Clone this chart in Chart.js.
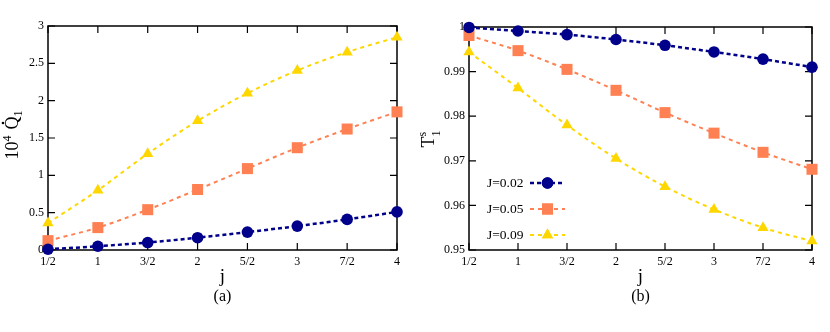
<!DOCTYPE html>
<html>
<head>
<meta charset="utf-8">
<script src="https://cdn.jsdelivr.net/npm/chart.js@4.4.0/dist/chart.umd.min.js"></script>
<style>
  html, body { margin: 0; padding: 0; background: #fff; }
  .panel { position: absolute; top: 0; height: 332px; }
  #panelA { left: 0; width: 410px; }
  #panelB { left: 410px; width: 420px; }
</style>
</head>
<body>
<div class="panel" id="panelA"><canvas id="heatChart"></canvas></div>
<div class="panel" id="panelB"><canvas id="tempChart"></canvas></div>
<script>
// ============================================
// Data
// ============================================
const jLabels = ['1/2', '1', '3/2', '2', '5/2', '3', '7/2', '4'];
const seriesNames = ['J=0.02', 'J=0.05', 'J=0.09'];

// panel (a): 10^4 Qdot_1
const heatJ002 = [0.01, 0.05, 0.10, 0.165, 0.24, 0.32, 0.41, 0.51];
const heatJ005 = [0.125, 0.30, 0.54, 0.81, 1.09, 1.37, 1.62, 1.85];
const heatJ009 = [0.36, 0.80, 1.29, 1.73, 2.10, 2.405, 2.65, 2.85];

// panel (b): T_1^s
const tempJ002 = [0.9999, 0.9991, 0.9983, 0.9972, 0.9959, 0.9944, 0.9928, 0.9910];
const tempJ005 = [0.9981, 0.9947, 0.9905, 0.9858, 0.9808, 0.9762, 0.9719, 0.9681];
const tempJ009 = [0.9944, 0.9863, 0.9780, 0.9705, 0.9642, 0.9591, 0.9550, 0.9520];

const SERIF = "'Liberation Serif', 'Times New Roman', 'DejaVu Serif', serif";

// series styles
const styles = [
    { color: '#00008b', pointStyle: 'circle', radius: 5.8, dash: [4, 3], width: 2.5 },
    { color: '#ff8052', pointStyle: 'rect', radius: 7.8, dash: [4, 4], width: 2 },
    { color: '#ffd700', pointStyle: 'triangle', radius: 6.5, dash: [4, 4], width: 2 }
];

function makeDataset(name, values, s) {
    return {
        label: name,
        data: values,
        borderColor: s.color,
        backgroundColor: s.color,
        borderWidth: s.width,
        borderDash: s.dash,
        cubicInterpolationMode: 'monotone',
        pointStyle: s.pointStyle,
        pointRadius: s.radius,
        pointBorderWidth: 0,
        pointBackgroundColor: s.color,
        clip: false,
        fill: false
    };
}

// ============================================
// Plugins: frame with inward ticks, titles, legend
// ============================================
const frameTicks = {
    id: 'frameTicks',
    beforeDatasetsDraw(chart) {
        const { ctx, chartArea: a, scales: { x, y } } = chart;
        const tl = 7;
        ctx.save();
        ctx.strokeStyle = '#000';
        ctx.lineWidth = 1.5;
        ctx.strokeRect(a.left, a.top, a.right - a.left, a.bottom - a.top);
        ctx.lineWidth = 1.2;
        ctx.beginPath();
        x.ticks.forEach((t, i) => {
            const px = x.getPixelForTick(i);
            ctx.moveTo(px, a.bottom); ctx.lineTo(px, a.bottom - tl);
            ctx.moveTo(px, a.top); ctx.lineTo(px, a.top + tl);
        });
        y.ticks.forEach(t => {
            const py = y.getPixelForValue(t.value);
            ctx.moveTo(a.left, py); ctx.lineTo(a.left + tl, py);
            ctx.moveTo(a.right, py); ctx.lineTo(a.right - tl, py);
        });
        ctx.stroke();
        ctx.restore();
    }
};

const axisTitles = {
    id: 'axisTitles',
    afterDraw(chart, args, opts) {
        const { ctx, chartArea: a } = chart;
        const cx = (a.left + a.right) / 2;
        ctx.save();
        ctx.fillStyle = '#000';
        ctx.textAlign = 'center';
        ctx.textBaseline = 'middle';
        ctx.font = '19px ' + SERIF;
        ctx.fillText('j', cx, 277);
        ctx.font = '16px ' + SERIF;
        ctx.fillText(opts.panel, cx, 297);

        // rotated y title, baseline at v = 0
        ctx.translate(opts.yTitleX, opts.yTitleY);
        ctx.rotate(-Math.PI / 2);
        ctx.textAlign = 'left';
        ctx.textBaseline = 'alphabetic';
        if (opts.kind === 'heat') {
            ctx.font = '18px ' + SERIF;
            const w10 = ctx.measureText('10').width;
            const wQ = ctx.measureText('Q').width;
            ctx.font = '12px ' + SERIF;
            const w4 = ctx.measureText('4').width;
            const w1 = ctx.measureText('1').width;
            const gap = 6;
            let x0 = -(w10 + w4 + gap + wQ + w1) / 2;
            ctx.font = '18px ' + SERIF;
            ctx.fillText('10', x0, 0);
            x0 += w10;
            ctx.font = '12px ' + SERIF;
            ctx.fillText('4', x0, -7);
            x0 += w4 + gap;
            ctx.font = '18px ' + SERIF;
            ctx.fillText('Q', x0, 0);
            ctx.beginPath();
            ctx.arc(x0 + wQ / 2, -15, 1.3, 0, Math.PI * 2);
            ctx.fill();
            ctx.font = '12px ' + SERIF;
            ctx.fillText('1', x0 + wQ, 4);
        } else {
            ctx.font = '18px ' + SERIF;
            const tw = ctx.measureText('T').width;
            const x0 = -(tw + 6) / 2;
            ctx.fillText('T', x0, 0);
            ctx.font = '12px ' + SERIF;
            ctx.fillText('s', x0 + tw, -8);
            ctx.fillText('1', x0 + tw, 6);
        }
        ctx.restore();
    }
};

const insideLegend = {
    id: 'insideLegend',
    afterDatasetsDraw(chart, args, opts) {
        if (!opts.show) return;
        const { ctx } = chart;
        ctx.save();
        chart.data.datasets.forEach((ds, i) => {
            const yPos = opts.rows[i];
            ctx.fillStyle = '#000';
            ctx.font = '13.5px ' + SERIF;
            ctx.textAlign = 'left';
            ctx.textBaseline = 'middle';
            ctx.fillText(ds.label, opts.textX, yPos);
            ctx.strokeStyle = ds.borderColor;
            ctx.lineWidth = ds.borderWidth;
            ctx.setLineDash(ds.borderDash);
            ctx.beginPath();
            ctx.moveTo(opts.lineX0, yPos);
            ctx.lineTo(opts.lineX1, yPos);
            ctx.stroke();
            ctx.setLineDash([]);
            ctx.fillStyle = ds.backgroundColor;
            Chart.helpers.drawPoint(ctx, {
                pointStyle: ds.pointStyle,
                radius: ds.pointRadius,
                borderWidth: 0
            }, (opts.lineX0 + opts.lineX1) / 2, yPos);
            ctx.fill();
        });
        ctx.restore();
    }
};

// ============================================
// Chart factory
// ============================================
function createPanel(canvasId, datasets, yCfg, layout, titleOpts, legendOpts) {
    const ctx = document.getElementById(canvasId);
    return new Chart(ctx, {
        type: 'line',
        data: { labels: jLabels, datasets: datasets },
        options: {
            responsive: true,
            maintainAspectRatio: false,
            animation: false,
            layout: { padding: { top: layout.top, right: layout.right, bottom: 0, left: 0 } },
            plugins: {
                legend: { display: false },
                tooltip: { enabled: false },
                axisTitles: titleOpts,
                insideLegend: legendOpts
            },
            scales: {
                x: {
                    type: 'category',
                    offset: false,
                    grid: { display: false, drawTicks: false },
                    border: { display: false },
                    ticks: {
                        color: '#000',
                        padding: 5,
                        maxRotation: 0,
                        autoSkip: false,
                        font: { family: SERIF, size: 12 }
                    },
                    afterFit: scale => { scale.height = 82; }
                },
                y: {
                    min: yCfg.min,
                    max: yCfg.max,
                    grid: { display: false, drawTicks: false },
                    border: { display: false },
                    ticks: {
                        color: '#000',
                        stepSize: yCfg.step,
                        padding: 4,
                        font: { family: SERIF, size: 12 },
                        callback: value => String(+value.toFixed(3))
                    },
                    afterFit: scale => { scale.width = layout.left; }
                }
            }
        },
        plugins: [frameTicks, axisTitles, insideLegend]
    });
}

createPanel('heatChart',
    [heatJ002, heatJ005, heatJ009].map((v, i) => makeDataset(seriesNames[i], v, styles[i])),
    { min: 0, max: 3, step: 0.5 },
    { left: 48, right: 13, top: 26 },
    { panel: '(a)', kind: 'heat', yTitleX: 18, yTitleY: 135 },
    { show: false });

createPanel('tempChart',
    [tempJ002, tempJ005, tempJ009].map((v, i) => makeDataset(seriesNames[i], v, styles[i])),
    { min: 0.95, max: 1, step: 0.01 },
    { left: 59, right: 18, top: 27 },
    { panel: '(b)', kind: 'temp', yTitleX: 24, yTitleY: 139 },
    { show: true, textX: 77, lineX0: 120, lineX1: 155, rows: [183, 209, 235] });
</script>
</body>
</html>
